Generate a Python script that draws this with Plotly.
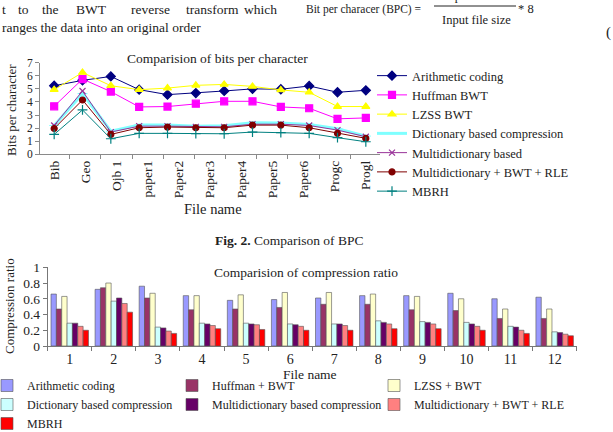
import plotly.graph_objects as go
import numpy as np

W, H = 613, 432
def px(x): return x / W
def py(y): return 1 - y / H

SERIF = "Liberation Serif"

# ---------- Chart 1 data: bits per character ----------
bpc_labels = ["Bib", "Geo", "Ojb 1", "paper1", "Paper2", "Paper3", "Paper4",
              "Paper5", "Paper6", "Progc", "Progl"]
bpc_arith = [5.24, 5.65, 5.95, 4.94, 4.56, 4.68, 4.84, 5.00, 4.97, 5.22, 4.74, 4.89]
bpc_huff = [3.67, 5.75, 4.79, 3.62, 3.65, 3.87, 4.05, 4.05, 3.62, 3.52, 2.71, 2.78]
bpc_lzss = [4.94, 6.25, 5.24, 4.94, 5.06, 5.27, 5.34, 5.19, 4.92, 4.74, 3.65, 3.65]
bpc_dict = [2.20, 4.63, 1.77, 2.23, 2.23, 2.15, 2.18, 2.41, 2.40, 2.28, 1.95, 1.39]
bpc_multi = [2.20, 4.84, 1.70, 2.15, 2.15, 2.10, 2.10, 2.30, 2.30, 2.20, 1.85, 1.34]
bpc_mbwt = [1.97, 4.15, 1.52, 2.03, 2.08, 2.03, 2.03, 2.23, 2.23, 2.03, 1.60, 1.22]
bpc_mbrh = [1.52, 3.39, 1.19, 1.60, 1.60, 1.58, 1.57, 1.70, 1.65, 1.60, 1.27, 0.96]

bpc_names = ["Arithmetic coding", "Huffman BWT", "LZSS BWT",
             "Dictionary based compression", "Multidictionary based",
             "Multidictionary + BWT + RLE", "MBRH"]

# ---------- Chart 2 data: compression ratio ----------
cr_files = [str(i) for i in range(1, 13)]
cr_arith = [0.66, 0.72, 0.76, 0.64, 0.58, 0.59, 0.61, 0.64, 0.64, 0.67, 0.60, 0.62]
cr_huff = [0.47, 0.74, 0.61, 0.46, 0.47, 0.49, 0.53, 0.53, 0.46, 0.45, 0.35, 0.35]
cr_lzss = [0.63, 0.80, 0.67, 0.64, 0.65, 0.68, 0.68, 0.66, 0.63, 0.60, 0.47, 0.47]
cr_dict = [0.29, 0.57, 0.24, 0.29, 0.29, 0.28, 0.28, 0.32, 0.31, 0.30, 0.25, 0.18]
cr_multi = [0.29, 0.61, 0.23, 0.28, 0.28, 0.27, 0.28, 0.30, 0.30, 0.28, 0.24, 0.17]
cr_mbwt = [0.25, 0.54, 0.19, 0.26, 0.27, 0.25, 0.26, 0.28, 0.28, 0.25, 0.20, 0.15]
cr_mbrh = [0.20, 0.43, 0.16, 0.22, 0.21, 0.20, 0.20, 0.22, 0.22, 0.20, 0.16, 0.13]

cr_names = ["Arithmetic coding", "Huffman + BWT", "LZSS + BWT",
            "Dictionary based compression", "Multidictionary based compression",
            "Multidictionary + BWT + RLE", "MBRH"]

fig = go.Figure()

# line chart
x_pts = list(range(len(bpc_arith)))
line_styles = [
    (bpc_arith, "#000080", "diamond", 7, 1),
    (bpc_huff, "#FF00FF", "square", 7, 1),
    (bpc_lzss, "#FFFF00", "triangle-up", 7, 1),
    (bpc_dict, "#7FFFFF", "line-ew", 7, 3),
    (bpc_multi, "#993399", "x-thin", 6, 1),
    (bpc_mbwt, "#800000", "circle", 6, 1),
    (bpc_mbrh, "#008080", "cross-thin", 7, 1),
]
for (vals, col, sym, sz, lw), name in zip(line_styles, bpc_names):
    fig.add_trace(go.Scatter(
        x=x_pts, y=vals, name=name, mode="lines+markers",
        line=dict(color=col, width=lw),
        marker=dict(symbol=sym, size=sz, color=col,
                    line=dict(color=col, width=1.2)),
        xaxis="x", yaxis="y", legend="legend"))

# bar chart: legend split into three columns (vertical legends)
bar_styles = ["#9999FF", "#993366", "#FFFFCC", "#CCFFFF", "#660066", "#FF8080", "#FF0000"]
bar_legend_col = ["legend2", "legend3", "legend4", "legend2", "legend3", "legend4", "legend2"]
for vals, col, name, lg in zip([cr_arith, cr_huff, cr_lzss, cr_dict, cr_multi, cr_mbwt, cr_mbrh],
                               bar_styles, cr_names, bar_legend_col):
    fig.add_trace(go.Bar(
        x=cr_files, y=vals, name=name,
        marker=dict(color=col, line=dict(color="#555555", width=0.6)),
        xaxis="x2", yaxis="y2", legend=lg))

n_pts = len(bpc_arith)
n_lab = len(bpc_labels)
label_pos = list(np.linspace(0, n_pts - 1, n_lab))
step = label_pos[1] - label_pos[0]

axis_col = "#8a8a8a"
leg_font_bar = dict(size=12, family=SERIF, color="#222")
fig.update_layout(
    width=W, height=H, margin=dict(l=0, r=0, t=0, b=0, autoexpand=False),
    paper_bgcolor="white", plot_bgcolor="white",
    font=dict(family=SERIF, color="#222222", size=13),
    barmode="group", bargap=0.15, bargroupgap=0,
    showlegend=True,
    xaxis=dict(domain=[px(40), px(380)], range=[-0.5, n_pts - 0.5],
               tickvals=label_pos, ticktext=bpc_labels, tickangle=-90,
               ticks="", showgrid=False, zeroline=False,
               showline=True, linecolor=axis_col, linewidth=1,
               tickfont=dict(size=13.5, family=SERIF, color="#222"),
               minor=dict(tick0=step / 2, dtick=step, ticks="outside",
                          ticklen=4, tickcolor=axis_col, showgrid=False),
               anchor="y", automargin=False),
    yaxis=dict(domain=[py(154.3), py(62.7)], range=[0, 7], dtick=1,
               showgrid=False, zeroline=False, showline=True,
               linecolor=axis_col, linewidth=1, ticks="outside", ticklen=4,
               tickcolor=axis_col, tickfont=dict(size=11.5, family=SERIF, color="#222"),
               anchor="x", automargin=False),
    xaxis2=dict(domain=[px(47.7), px(576.7)], type="category",
                showgrid=False, zeroline=False, showline=True,
                linecolor="#777", linewidth=1, ticks="outside", ticklen=4,
                tickson="boundaries", tickcolor="#777",
                tickfont=dict(size=14, family=SERIF, color="#222"),
                anchor="y2", automargin=False),
    yaxis2=dict(domain=[py(346), py(267.3)], range=[0, 1], dtick=0.2,
                showgrid=False, zeroline=False, showline=True,
                linecolor="#777", linewidth=1, ticks="outside", ticklen=4,
                tickcolor="#777", tickfont=dict(size=13.5, family=SERIF, color="#222"),
                anchor="x2", automargin=False),
    legend=dict(x=px(372), y=py(61), xanchor="left", yanchor="top",
                bgcolor="rgba(0,0,0,0)", font=dict(size=12.5, family=SERIF, color="#222"),
                tracegroupgap=0, itemwidth=30),
    legend2=dict(x=px(-13), y=py(371), xanchor="left", yanchor="top",
                 bgcolor="rgba(0,0,0,0)", font=leg_font_bar, itemwidth=30, tracegroupgap=0),
    legend3=dict(x=px(172), y=py(371), xanchor="left", yanchor="top",
                 bgcolor="rgba(0,0,0,0)", font=leg_font_bar, itemwidth=30, tracegroupgap=0),
    legend4=dict(x=px(374), y=py(371), xanchor="left", yanchor="top",
                 bgcolor="rgba(0,0,0,0)", font=leg_font_bar, itemwidth=30, tracegroupgap=0),
)

ann = []
def text(t, x, y, size=13, xanchor="center", angle=0, yanchor="middle"):
    ann.append(dict(text=t, x=px(x), y=py(y), xref="paper", yref="paper",
                    showarrow=False, xanchor=xanchor, yanchor=yanchor,
                    textangle=angle, font=dict(family=SERIF, size=size, color="#222")))

# page text
for word, xw in [("t", 0), ("to", 15.6), ("the", 40), ("BWT", 74), ("reverse", 129),
                 ("transform", 184), ("which", 242)]:
    text(word, xw, 10, size=13.5, xanchor="left")
text("ranges the data into an original order", 0, 27, size=13.5, xanchor="left")
text("Bit per characer (BPC) =", 304, 9, size=11.5, xanchor="left")
text("Output file size", 475, -4, size=12.5)
text("Input file size", 476, 20, size=12.5)
text("* 8", 516, 9, size=12.5, xanchor="left")
text("(", 604, 33, size=15, xanchor="left")
text("<b>Fig. 2.</b> Comparison of BPC", 289, 240, size=13.5)

# chart 1 texts
text("Comparision of bits per character", 218, 58, size=13.5)
text("Bits per character", 11, 110, size=13, angle=-90)
text("File name", 213, 209, size=14.5)
# chart 2 texts
text("Comparision of compression ratio", 306, 272, size=13.5)
text("Compression ratio", 9, 306, size=13, angle=-90)
text("File name", 310, 374, size=13.5)

fig.update_layout(annotations=ann,
                  shapes=[dict(type="line", xref="paper", yref="paper",
                               x0=px(434), x1=px(516), y0=py(6), y1=py(6),
                               line=dict(color="#222", width=1))])

fig.write_html("out.html")
